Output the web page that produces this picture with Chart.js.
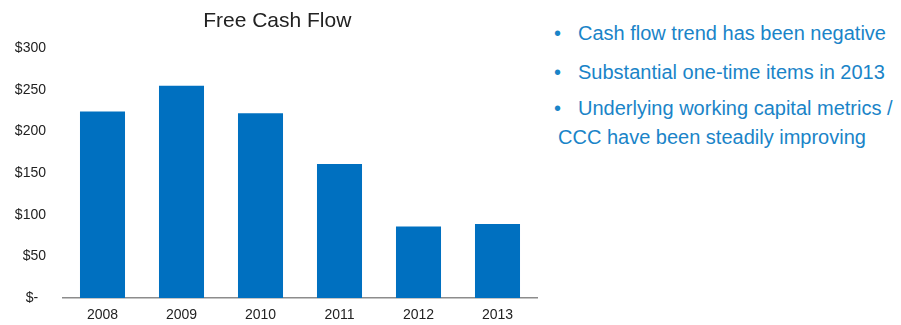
<!DOCTYPE html>
<html>
<head>
<meta charset="utf-8">
<script src="https://cdn.jsdelivr.net/npm/chart.js@4"></script>
<style>
  html, body { margin: 0; padding: 0; background: #fff; }
  body { width: 901px; height: 325px; position: relative; overflow: hidden; font-family: "Liberation Sans", Arial, sans-serif; }
  #chart-wrap { position: absolute; left: 0; top: 0; width: 545px; height: 325px; }
  .note { position: absolute; color: #1a84c8; font-size: 20px; line-height: 24px; white-space: nowrap; }
  .dot { position: absolute; left: 554px; }
</style>
</head>
<body>
<div id="chart-wrap"><canvas id="fcf"></canvas></div>

<div class="note dot" style="top:21px">•</div>
<div class="note" style="left:578px; top:21px">Cash flow trend has been negative</div>
<div class="note dot" style="top:60px">•</div>
<div class="note" style="left:578px; top:60px">Substantial one-time items in 2013</div>
<div class="note dot" style="top:96px">•</div>
<div class="note" style="left:578px; top:96px">Underlying working capital metrics /</div>
<div class="note" style="left:558px; top:125px">CCC have been steadily improving</div>

<script>
// 연도별 잉여현금흐름 (단위: $, 그림에서 읽은 값)
const years = ['2008', '2009', '2010', '2011', '2012', '2013'];
const freeCashFlow = [224, 255, 222, 161, 86, 89];
const yTicks = [0, 50, 100, 150, 200, 250, 300];

const BAR_COLOR = '#0070c0';
const TEXT_COLOR = '#222222';
const FONT_FAMILY = '"Liberation Sans", Arial, sans-serif';

new Chart(document.getElementById('fcf'), {
  type: 'bar',
  data: {
    labels: years,
    datasets: [{ data: freeCashFlow, backgroundColor: BAR_COLOR, categoryPercentage: 1, barPercentage: 0.57 }],
  },
  options: {
    responsive: true,
    maintainAspectRatio: false,
    animation: false,
    layout: { padding: { left: 0, right: 8, top: 0, bottom: 0 } },
    plugins: {
      legend: { display: false },
      tooltip: { enabled: false },
      title: {
        display: true,
        // 원본 제목이 플롯 중앙보다 약간 오른쪽에 있어 앞 공백으로 보정
        text: '   Free Cash Flow',
        color: TEXT_COLOR,
        font: { family: FONT_FAMILY, size: 21, weight: 'normal' },
        padding: { top: 9, bottom: 14 },
      },
    },
    scales: {
      x: {
        afterFit: (scale) => { scale.height = 27; },
        grid: { display: false, drawTicks: false },
        border: { display: true, color: '#8c8c8c', width: 1.5 },
        ticks: { color: TEXT_COLOR, padding: 9, font: { family: FONT_FAMILY, size: 14 } },
      },
      y: {
        min: 0,
        max: 300,
        afterBuildTicks: (scale) => { scale.ticks = yTicks.map((v) => ({ value: v })); },
        afterFit: (scale) => { scale.width = 63; },
        grid: { display: false, drawTicks: false },
        border: { display: false },
        ticks: {
          color: TEXT_COLOR,
          padding: 17,
          font: { family: FONT_FAMILY, size: 14 },
          callback: (v) => (v === 0 ? '$-  ' : '$' + v),
        },
      },
    },
  },
});
</script>
</body>
</html>
